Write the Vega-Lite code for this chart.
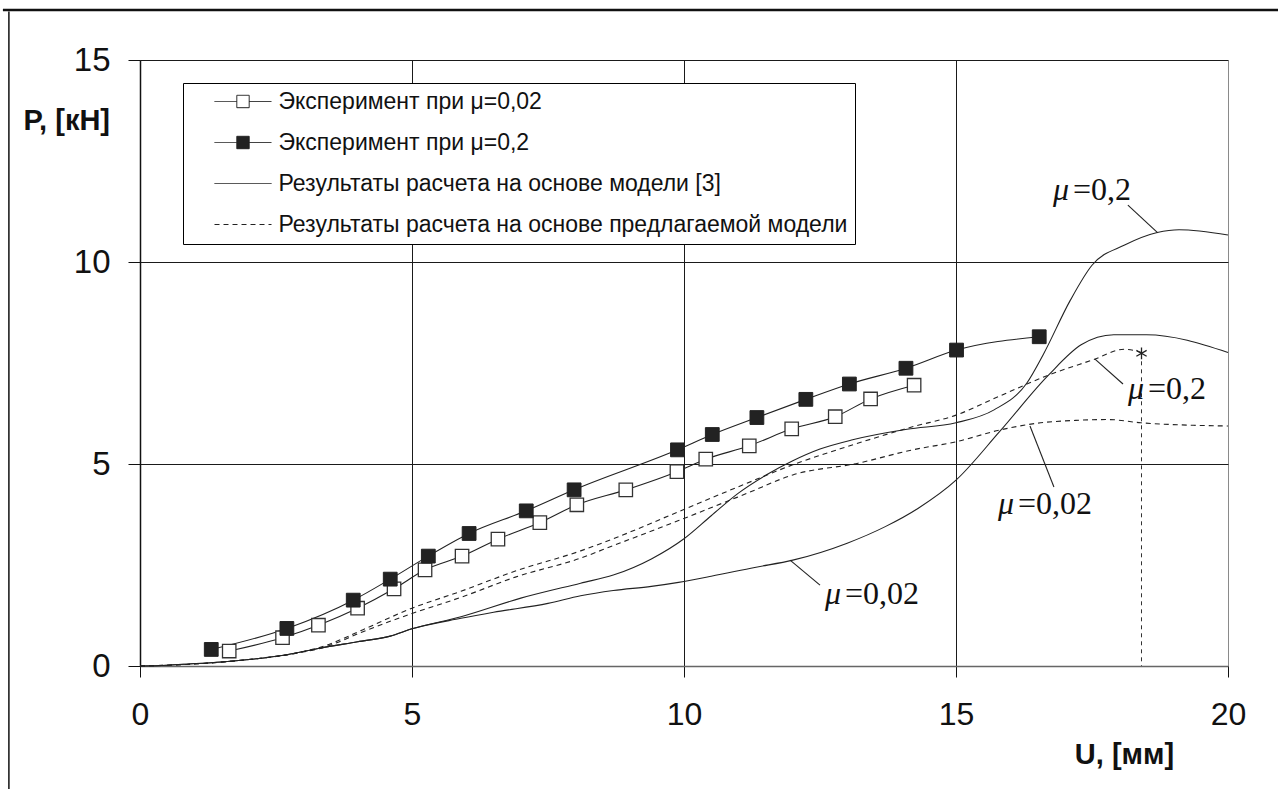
{
  "$schema": "https://vega.github.io/schema/vega-lite/v6.json",
  "width": 1088,
  "height": 606,
  "autosize": {"type": "none"},
  "padding": {"left": 140, "top": 60, "right": 50, "bottom": 123},
  "background": "white",
  "config": {
    "font": "Liberation Sans",
    "view": {"stroke": null},
    "legend": {
      "orient": "none",
      "legendX": 43,
      "legendY": 23,
      "symbolSize": 400,
      "symbolFillColor": "white",
      "symbolStrokeColor": "#222",
      "symbolStrokeWidth": 1,
      "symbolOffset": 41.5,
      "labelOffset": 24,
      "labelFont": "Liberation Sans",
      "labelFontSize": 23,
      "labelColor": "#111",
      "labelLimit": 0,
      "rowPadding": 17,
      "padding": 7,
      "strokeColor": "#000",
      "fillColor": "white",
      "cornerRadius": 0
    }
  },
  "datasets": {
    "m3": [
      {"curve": "a", "U": 0, "P": 0}, {"curve": "a", "U": 0.5, "P": 0.02}, {"curve": "a", "U": 0.9, "P": 0.05}, {"curve": "a", "U": 1.5, "P": 0.1}, {"curve": "a", "U": 2.0, "P": 0.16}, {"curve": "a", "U": 2.7, "P": 0.28}, {"curve": "a", "U": 3.3, "P": 0.44}, {"curve": "a", "U": 4.0, "P": 0.6}, {"curve": "a", "U": 4.6, "P": 0.74}, {"curve": "a", "U": 5.0, "P": 0.92}, {"curve": "a", "U": 5.9, "P": 1.22}, {"curve": "a", "U": 7.0, "P": 1.68}, {"curve": "a", "U": 8.1, "P": 2.05}, {"curve": "a", "U": 8.7, "P": 2.25}, {"curve": "a", "U": 9.4, "P": 2.65}, {"curve": "a", "U": 10.0, "P": 3.15}, {"curve": "a", "U": 10.5, "P": 3.72}, {"curve": "a", "U": 11.0, "P": 4.28}, {"curve": "a", "U": 11.5, "P": 4.72}, {"curve": "a", "U": 12.0, "P": 5.08}, {"curve": "a", "U": 12.5, "P": 5.37}, {"curve": "a", "U": 13.1, "P": 5.6}, {"curve": "a", "U": 14.1, "P": 5.86}, {"curve": "a", "U": 15.0, "P": 6.02}, {"curve": "a", "U": 15.7, "P": 6.34}, {"curve": "a", "U": 16.3, "P": 7.0}, {"curve": "a", "U": 16.6, "P": 7.7}, {"curve": "a", "U": 17.1, "P": 9.05}, {"curve": "a", "U": 17.5, "P": 9.92}, {"curve": "a", "U": 18.1, "P": 10.42}, {"curve": "a", "U": 18.7, "P": 10.73}, {"curve": "a", "U": 19.1, "P": 10.8}, {"curve": "a", "U": 20, "P": 10.67},
      {"curve": "b", "U": 0, "P": 0}, {"curve": "b", "U": 0.5, "P": 0.02}, {"curve": "b", "U": 0.9, "P": 0.05}, {"curve": "b", "U": 1.5, "P": 0.1}, {"curve": "b", "U": 2.0, "P": 0.16}, {"curve": "b", "U": 2.7, "P": 0.28}, {"curve": "b", "U": 3.3, "P": 0.44}, {"curve": "b", "U": 4.0, "P": 0.6}, {"curve": "b", "U": 4.6, "P": 0.74}, {"curve": "b", "U": 5.0, "P": 0.92}, {"curve": "b", "U": 5.9, "P": 1.18}, {"curve": "b", "U": 6.5, "P": 1.33}, {"curve": "b", "U": 7.5, "P": 1.55}, {"curve": "b", "U": 8.1, "P": 1.74}, {"curve": "b", "U": 8.7, "P": 1.87}, {"curve": "b", "U": 9.4, "P": 1.97}, {"curve": "b", "U": 9.9, "P": 2.07}, {"curve": "b", "U": 10.5, "P": 2.22}, {"curve": "b", "U": 11.3, "P": 2.44}, {"curve": "b", "U": 12.0, "P": 2.62}, {"curve": "b", "U": 13.0, "P": 3.04}, {"curve": "b", "U": 13.7, "P": 3.45}, {"curve": "b", "U": 14.3, "P": 3.9}, {"curve": "b", "U": 15.0, "P": 4.6}, {"curve": "b", "U": 15.8, "P": 5.8}, {"curve": "b", "U": 16.7, "P": 7.2}, {"curve": "b", "U": 17.3, "P": 7.95}, {"curve": "b", "U": 17.9, "P": 8.2}, {"curve": "b", "U": 18.5, "P": 8.2}, {"curve": "b", "U": 20, "P": 7.76}
    ],
    "prop": [
      {"curve": "a", "U": 0, "P": 0}, {"curve": "a", "U": 1, "P": 0.05}, {"curve": "a", "U": 2, "P": 0.16}, {"curve": "a", "U": 2.8, "P": 0.3}, {"curve": "a", "U": 3.4, "P": 0.5}, {"curve": "a", "U": 4.1, "P": 0.9}, {"curve": "a", "U": 5.0, "P": 1.43}, {"curve": "a", "U": 5.9, "P": 1.85}, {"curve": "a", "U": 6.9, "P": 2.35}, {"curve": "a", "U": 8.1, "P": 2.85}, {"curve": "a", "U": 8.7, "P": 3.15}, {"curve": "a", "U": 9.9, "P": 3.82}, {"curve": "a", "U": 11.15, "P": 4.52}, {"curve": "a", "U": 12.0, "P": 4.98}, {"curve": "a", "U": 13.0, "P": 5.43}, {"curve": "a", "U": 14.2, "P": 5.92}, {"curve": "a", "U": 15.0, "P": 6.21}, {"curve": "a", "U": 15.8, "P": 6.68}, {"curve": "a", "U": 16.7, "P": 7.2}, {"curve": "a", "U": 17.5, "P": 7.57}, {"curve": "a", "U": 18.1, "P": 7.84}, {"curve": "a", "U": 18.41, "P": 7.76},
      {"curve": "b", "U": 0, "P": 0}, {"curve": "b", "U": 1, "P": 0.05}, {"curve": "b", "U": 2, "P": 0.16}, {"curve": "b", "U": 2.8, "P": 0.3}, {"curve": "b", "U": 3.4, "P": 0.47}, {"curve": "b", "U": 4.1, "P": 0.85}, {"curve": "b", "U": 5.0, "P": 1.3}, {"curve": "b", "U": 5.9, "P": 1.7}, {"curve": "b", "U": 6.9, "P": 2.2}, {"curve": "b", "U": 8.1, "P": 2.67}, {"curve": "b", "U": 8.7, "P": 2.98}, {"curve": "b", "U": 9.9, "P": 3.6}, {"curve": "b", "U": 11.15, "P": 4.27}, {"curve": "b", "U": 12.0, "P": 4.73}, {"curve": "b", "U": 13.2, "P": 5.02}, {"curve": "b", "U": 14.2, "P": 5.35}, {"curve": "b", "U": 15.0, "P": 5.55}, {"curve": "b", "U": 15.8, "P": 5.84}, {"curve": "b", "U": 16.5, "P": 6.01}, {"curve": "b", "U": 17.2, "P": 6.08}, {"curve": "b", "U": 17.8, "P": 6.1}, {"curve": "b", "U": 18.4, "P": 6.02}, {"curve": "b", "U": 20, "P": 5.94}
    ],
    "e002": [
      {"U": 1.64, "P": 0.37}, {"U": 2.62, "P": 0.70}, {"U": 3.28, "P": 1.01}, {"U": 4.00, "P": 1.43}, {"U": 4.67, "P": 1.91}, {"U": 5.24, "P": 2.38}, {"U": 5.92, "P": 2.72}, {"U": 6.58, "P": 3.14}, {"U": 7.35, "P": 3.55}, {"U": 8.03, "P": 3.99}, {"U": 8.93, "P": 4.36}, {"U": 9.87, "P": 4.81}, {"U": 10.40, "P": 5.12}, {"U": 11.20, "P": 5.45}, {"U": 11.98, "P": 5.87}, {"U": 12.78, "P": 6.17}, {"U": 13.43, "P": 6.61}, {"U": 14.23, "P": 6.95}
    ],
    "e02": [
      {"U": 1.31, "P": 0.41}, {"U": 2.70, "P": 0.93}, {"U": 3.92, "P": 1.63}, {"U": 4.60, "P": 2.15}, {"U": 5.30, "P": 2.72}, {"U": 6.05, "P": 3.28}, {"U": 7.10, "P": 3.84}, {"U": 7.98, "P": 4.36}, {"U": 9.88, "P": 5.35}, {"U": 10.52, "P": 5.73}, {"U": 11.34, "P": 6.15}, {"U": 12.24, "P": 6.60}, {"U": 13.04, "P": 6.98}, {"U": 14.08, "P": 7.37}, {"U": 15.01, "P": 7.82}, {"U": 16.53, "P": 8.15}
    ],
    "legend": [
      {"series": "Эксперимент при μ=0,02"},
      {"series": "Эксперимент при μ=0,2"},
      {"series": "Результаты расчета на основе модели [3]"},
      {"series": "Результаты расчета на основе предлагаемой модели"}
    ],
    "ann": [
      {"U": 17.15, "P": 11.53, "t": "=0,2"},
      {"U": 18.53, "P": 6.61, "t": "=0,2"},
      {"U": 16.14, "P": 3.76, "t": "=0,02"},
      {"U": 12.96, "P": 1.53, "t": "=0,02"}
    ],
    "leaders": [
      {"U": 18.16, "P": 11.41, "U2": 18.71, "P2": 10.72},
      {"U": 18.07, "P": 6.98, "U2": 17.55, "P2": 7.6},
      {"U": 16.8, "P": 4.43, "U2": 16.36, "P2": 5.94},
      {"U": 12.5, "P": 2.0, "U2": 11.95, "P2": 2.62}
    ],
    "end": [
      {"U": 18.41, "P": 7.74}
    ],
    "frameTop": [
      {"U": -2.52, "U2": 20.92, "P": 16.24}
    ],
    "frameLeft": [
      {"U": -2.41, "P": 16.2, "P2": -3.1}
    ]
  },
  "encoding": {
    "x": {
      "field": "U", "type": "quantitative",
      "scale": {"domain": [0, 20], "nice": false, "zero": false},
      "axis": {
        "values": [0, 5, 10, 15, 20],
        "grid": true,
        "gridColor": {"condition": {"test": "datum.value === 20", "value": "#8a8a8a"}, "value": "#1a1a1a"},
        "gridWidth": 1,
        "domainColor": "#666",
        "domainWidth": 1.5,
        "tickColor": "#111",
        "tickSize": 11,
        "labelFont": "Liberation Sans",
        "labelFontSize": 32,
        "labelColor": "#111",
        "labelPadding": 22,
        "labelFlush": false,
        "labelOverlap": false,
        "title": "U, [мм]",
        "titleFont": "Liberation Sans",
        "titleFontSize": 29,
        "titleFontWeight": "bold",
        "titleColor": "#111",
        "titleX": 984,
        "titleY": 88,
        "titleAlign": "center",
        "titleBaseline": "middle"
      }
    },
    "y": {
      "field": "P", "type": "quantitative",
      "scale": {"domain": [0, 15], "nice": false, "zero": false},
      "axis": {
        "values": [0, 5, 10, 15],
        "grid": true,
        "gridColor": "#1a1a1a",
        "gridWidth": 1,
        "domainColor": "#111",
        "domainWidth": 1.5,
        "tickColor": "#111",
        "tickSize": 12,
        "labelFont": "Liberation Sans",
        "labelFontSize": 33,
        "labelColor": "#111",
        "labelPadding": 18,
        "labelFlush": false,
        "labelOverlap": false,
        "title": "P, [кН]",
        "titleFont": "Liberation Sans",
        "titleFontSize": 29,
        "titleFontWeight": "bold",
        "titleColor": "#111",
        "titleAngle": 0,
        "titleX": -117,
        "titleY": 60,
        "titleAlign": "left",
        "titleBaseline": "middle"
      }
    }
  },
  "layer": [
    {
      "data": {"name": "m3"},
      "mark": {"type": "line", "interpolate": "monotone", "stroke": "#222", "strokeWidth": 1.1},
      "encoding": {"detail": {"field": "curve", "type": "nominal"}}
    },
    {
      "data": {"name": "prop"},
      "mark": {"type": "line", "interpolate": "monotone", "stroke": "#222", "strokeWidth": 1.1, "strokeDash": [5, 4]},
      "encoding": {"detail": {"field": "curve", "type": "nominal"}}
    },
    {
      "data": {"name": "e002"},
      "mark": {"type": "line", "interpolate": "monotone", "stroke": "#222", "strokeWidth": 1.1}
    },
    {
      "data": {"name": "e02"},
      "mark": {"type": "line", "interpolate": "monotone", "stroke": "#222", "strokeWidth": 1.1}
    },
    {
      "data": {"name": "e002"},
      "mark": {"type": "point", "shape": "square", "size": 180, "filled": true, "fill": "white", "stroke": "#333", "strokeWidth": 1.3, "opacity": 1}
    },
    {
      "data": {"name": "e02"},
      "mark": {"type": "point", "shape": "square", "size": 190, "filled": true, "fill": "#222", "stroke": "#222", "strokeWidth": 1, "opacity": 1}
    },
    {
      "data": {"name": "end"},
      "mark": {"type": "rule", "stroke": "#333", "strokeWidth": 1, "strokeDash": [4, 4]},
      "encoding": {"y2": {"datum": 0}}
    },
    {
      "data": {"name": "end"},
      "mark": {"type": "point", "shape": "M0,-1V1M-0.87,-0.5L0.87,0.5M-0.87,0.5L0.87,-0.5", "size": 140, "stroke": "#222", "strokeWidth": 1.3, "opacity": 1}
    },
    {
      "data": {"name": "leaders"},
      "mark": {"type": "rule", "stroke": "#222", "strokeWidth": 1.1},
      "encoding": {"x2": {"field": "U2"}, "y2": {"field": "P2"}}
    },
    {
      "data": {"name": "ann"},
      "mark": {"type": "text", "text": "μ", "font": "Liberation Serif", "fontSize": 32, "fontStyle": "italic", "align": "right", "baseline": "alphabetic", "dx": -4, "color": "#111"}
    },
    {
      "data": {"name": "ann"},
      "mark": {"type": "text", "font": "Liberation Serif", "fontSize": 32, "align": "left", "baseline": "alphabetic", "color": "#111"},
      "encoding": {"text": {"field": "t"}}
    },
    {
      "data": {"name": "legend"},
      "mark": {"type": "point", "filled": true, "clip": true, "stroke": "#222", "opacity": 1},
      "encoding": {
        "x": {"datum": -5},
        "y": {"datum": -5},
        "shape": {
          "field": "series", "type": "nominal",
          "scale": {
            "domain": ["Эксперимент при μ=0,02", "Эксперимент при μ=0,2", "Результаты расчета на основе модели [3]", "Результаты расчета на основе предлагаемой модели"],
            "range": ["M-2.85,0H-0.62M0.62,0H2.85M-0.62,-0.62H0.62V0.62H-0.62Z", "M-2.85,0H-0.62M0.62,0H2.85M-0.62,-0.62H0.62V0.62H-0.62Z", "M-2.85,0H2.85", "M-2.85,0H2.85"]
          },
          "legend": {"title": null}
        },
        "fill": {
          "field": "series", "type": "nominal",
          "scale": {
            "domain": ["Эксперимент при μ=0,02", "Эксперимент при μ=0,2", "Результаты расчета на основе модели [3]", "Результаты расчета на основе предлагаемой модели"],
            "range": ["white", "#222", "white", "white"]
          },
          "legend": {"title": null}
        },
        "strokeDash": {
          "field": "series", "type": "nominal",
          "scale": {
            "domain": ["Эксперимент при μ=0,02", "Эксперимент при μ=0,2", "Результаты расчета на основе модели [3]", "Результаты расчета на основе предлагаемой модели"],
            "range": [[1, 0], [1, 0], [1, 0], [5, 4]]
          },
          "legend": {"title": null}
        }
      }
    },
    {
      "data": {"name": "frameTop"},
      "mark": {"type": "rule", "stroke": "#111", "strokeWidth": 2.5, "clip": false},
      "encoding": {"x2": {"field": "U2"}}
    },
    {
      "data": {"name": "frameLeft"},
      "mark": {"type": "rule", "stroke": "#111", "strokeWidth": 1.5, "clip": false},
      "encoding": {"y2": {"field": "P2"}}
    }
  ]
}
